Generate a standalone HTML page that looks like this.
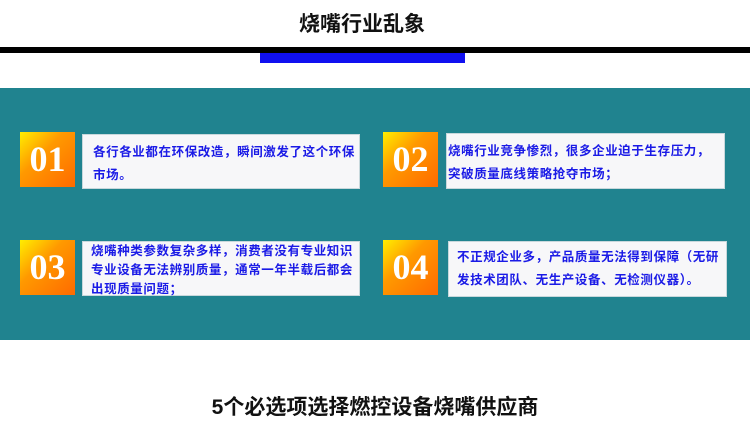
<!DOCTYPE html>
<html><head><meta charset="utf-8"><style>
body{margin:0;width:750px;height:428px;background:#fff;position:relative;overflow:hidden;font-family:"Liberation Sans","Noto Sans CJK SC",sans-serif}
.a{position:absolute}
.num{position:absolute;width:55px;height:55px;background:linear-gradient(135deg,#ffee00 0%,#ff9900 40%,#ff6a00 100%);color:#fff;font-family:"Liberation Serif",serif;font-weight:bold;font-size:36px;line-height:55px;text-align:center}
.box{position:absolute;background:#f7f7f9;border:1px solid #c8d8dc;color:#1a1ae6;font-weight:bold;font-size:12.5px;letter-spacing:0.6px;line-height:23px;box-sizing:border-box;padding:3px 8px}
</style></head><body>
<div class="a" style="left:0;top:10px;width:724px;text-align:center;font-size:21px;font-weight:bold;color:#111;line-height:30px">烧嘴行业乱象</div>
<div class="a" style="left:0;top:47px;width:750px;height:6px;background:#000"></div>
<div class="a" style="left:260px;top:53px;width:205px;height:10px;background:#1010f0"></div>
<div class="a" style="left:0;top:88px;width:750px;height:252px;background:#20838f"></div>
<div class="num" style="left:20px;top:132px">01</div>
<div class="box" style="left:82px;top:134px;width:278px;height:55px;padding:6px 4px 0 10px">各行各业都在环保改造，瞬间激发了这个环保市场。</div>
<div class="num" style="left:383px;top:132px">02</div>
<div class="box" style="left:446px;top:133px;width:279px;height:56px;padding:6px 2px 0 1px">烧嘴行业竞争惨烈，很多企业迫于生存压力，<br>突破质量底线策略抢夺市场；</div>
<div class="num" style="left:20px;top:240px">03</div>
<div class="box" style="left:82px;top:241px;width:278px;height:55px;padding:0 2px 0 8px;line-height:19px">烧嘴种类参数复杂多样，消费者没有专业知识<br>专业设备无法辨别质量，通常一年半载后都会<br>出现质量问题；</div>
<div class="num" style="left:383px;top:240px">04</div>
<div class="box" style="left:448px;top:241px;width:279px;height:56px;padding:4px 2px 0 8px">不正规企业多，产品质量无法得到保障（无研<br>发技术团队、无生产设备、无检测仪器）。</div>
<div class="a" style="left:0;top:393px;width:750px;text-align:center;font-size:21px;font-weight:bold;color:#111;line-height:30px">5个必选项选择燃控设备烧嘴供应商</div>
</body></html>
